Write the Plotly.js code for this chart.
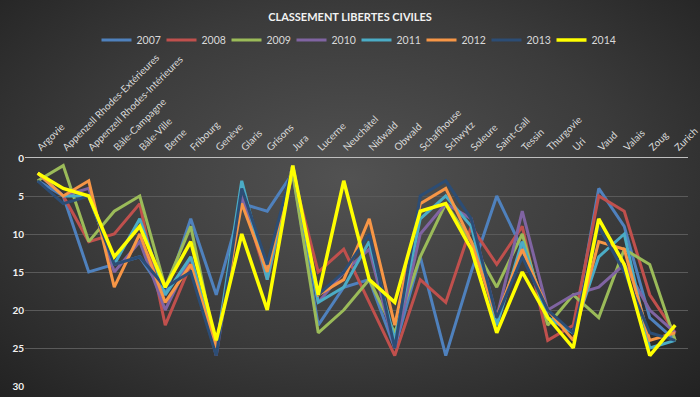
<!DOCTYPE html>
<html>
<head>
<meta charset="utf-8">
<script src="https://cdn.plot.ly/plotly-3.0.1.min.js"></script>
<style>
html,body{margin:0;padding:0;}
#chart{width:700px;height:397px;background:radial-gradient(ellipse at 50% 45%, #525252 0%, #3b3b3b 55%, #222222 100%);}
</style>
</head>
<body>
<div id="chart"></div>
<script>
const cantons = ["Argovie","Appenzell Rhodes-Extérieures","Appenzell Rhodes-Intérieures","Bâle-Campagne","Bâle-Ville","Berne","Fribourg","Genève","Glaris","Grisons","Jura","Lucerne","Neuchâtel","Nidwald","Obwald","Schaffhouse","Schwytz","Soleure","Saint-Gall","Tessin","Thurgovie","Uri","Vaud","Valais","Zoug","Zurich"];
const years = ["2007","2008","2009","2010","2011","2012","2013","2014"];
const r2007 = [3,5,15,14,13,18,8,18,6,7,2,22,17,16,25,13,26,15,5,12,21,23,4,9,21,24];
const r2008 = [2,5,11,10,6,22,14,25,5,16,2,15,12,19,26,16,19,9,14,9,24,22,5,7,18,23];
const r2009 = [3,1,11,7,5,17,9,25,5,15,2,23,20,16,23,13,6,11,17,10,22,18,21,12,14,24];
const r2010 = [2,5,4,15,11,20,13,26,5,15,1,19,15,12,25,10,6,8,21,7,20,18,17,14,20,23];
const r2011 = [2,5,5,14,8,18,13,25,3,16,1,19,17,11,24,8,5,9,22,11,21,23,13,10,25,24];
const r2012 = [2,5,3,17,10,19,14,25,6,15,1,18,16,8,22,6,4,11,21,12,20,24,11,12,24,23];
const r2013 = [3,6,5,14,13,17,15,26,4,14,1,18,15,10,25,5,3,8,21,13,20,23,9,15,23,24];
const r2014 = [2,4,5,13,9,17,11,24,10,20,1,18,3,16,19,7,6,12,23,15,21,25,8,14,26,22];
const seriesValues = [r2007,r2008,r2009,r2010,r2011,r2012,r2013,r2014];
const colors = ["#4F81BD","#C0504D","#9BBB59","#8064A2","#4BACC6","#F79646","#2C4D75","#FFFF00"];

const traces = years.map((y,i)=>({
  type:'scatter', mode:'lines', name:y,
  x:cantons, y:seriesValues[i],
  line:{color:colors[i], width: i===7 ? 3.5 : 3}
}));

const layout = {
  width:700, height:397,
  paper_bgcolor:'rgba(0,0,0,0)', plot_bgcolor:'rgba(0,0,0,0)',
  margin:{l:25, r:12, t:158, b:11},
  font:{family:'Lato, "Open Sans", sans-serif', color:'#d9d9d9'},
  title:{text:'<b>CLASSEMENT LIBERTES CIVILES</b>', x:0.5, xanchor:'center', y:1-17/397, yanchor:'middle', font:{size:11, color:'#f2f2f2', family:'Lato, "Open Sans", sans-serif'}},
  showlegend:true,
  legend:{orientation:'h', x:0.5, xanchor:'center', yref:'container', y:1-40/397, yanchor:'middle', font:{size:10.5, color:'#d9d9d9'}, itemwidth:30, entrywidth:20, bgcolor:'rgba(0,0,0,0)'},
  xaxis:{type:'category', side:'top', tickangle:-45, tickfont:{size:10, color:'#d9d9d9'}, showgrid:false, showline:true, linecolor:'#bfbfbf', linewidth:1, ticks:'', zeroline:false, range:[-0.5,25.5]},
  yaxis:{range:[30,0], tickvals:[0,5,10,15,20,25,30], tickfont:{size:10, color:'#f2f2f2', family:'Lato, "Open Sans", sans-serif', weight:'bold'}, showgrid:true, gridcolor:'#5a5a5a', gridwidth:1, zeroline:false, ticks:'', showline:false}
};

Plotly.newPlot('chart', traces, layout, {displayModeBar:false, staticPlot:true});
</script>
</body>
</html>
